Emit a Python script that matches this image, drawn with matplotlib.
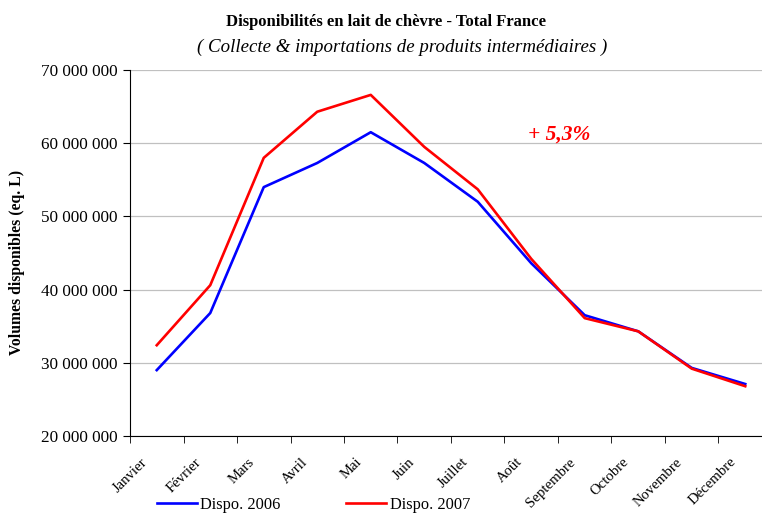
import matplotlib
matplotlib.use('Agg')
import matplotlib.pyplot as plt
from matplotlib.transforms import ScaledTranslation
import numpy as np

plt.rcParams['font.family'] = ['Liberation Serif', 'DejaVu Serif']

# monthly volumes (eq. L)
mois = ['Janvier', 'Février', 'Mars', 'Avril', 'Mai', 'Juin', 'Juillet',
        'Août', 'Septembre', 'Octobre', 'Novembre', 'Décembre']
dispo_2006 = [29.0e6, 36.8e6, 54.0e6, 57.3e6, 61.5e6, 57.3e6, 52.0e6,
              43.6e6, 36.5e6, 34.3e6, 29.3e6, 27.1e6]
dispo_2007 = [32.4e6, 40.6e6, 58.0e6, 64.3e6, 66.6e6, 59.5e6, 53.7e6,
              44.2e6, 36.1e6, 34.3e6, 29.2e6, 26.8e6]
evolution = '+ 5,3%'

fig = plt.figure(figsize=(7.62, 5.13), dpi=100)
ax = fig.add_axes([130/762, 1 - 436/513, 642/762, 366/513])

x = np.arange(len(mois))
l1, = ax.plot(x, dispo_2006, color='#0000ff', lw=1.9, label='Dispo. 2006')
l2, = ax.plot(x, dispo_2007, color='#ff0000', lw=1.9, label='Dispo. 2007')

ax.set_xlim(-0.5, len(mois) - 0.5)
ax.set_ylim(20e6, 70e6)
ax.set_yticks(np.arange(20e6, 70e6 + 1, 10e6))
ax.set_yticklabels(['{:,.0f}'.format(v).replace(',', ' ') for v in ax.get_yticks()])
ax.yaxis.grid(True, color='#c0c0c0', lw=0.9)
ax.set_axisbelow(True)

ax.set_xticks(x)
ax.set_xticklabels(mois, rotation=45, ha='right', rotation_mode='anchor')
ax.set_xticks(np.arange(-0.5, len(mois)), minor=True)
ax.tick_params(axis='x', which='major', length=0, pad=14, labelsize=10.6)
ax.tick_params(axis='x', which='minor', length=5, direction='out', color='black')
ax.tick_params(axis='y', length=5, direction='out', labelsize=12.3, pad=4)
# month labels sit a little left of their category
shift = ScaledTranslation(-16/100, 0, fig.dpi_scale_trans)
for lab in ax.get_xticklabels():
    lab.set_transform(lab.get_transform() + shift)

for s in ['top', 'right']:
    ax.spines[s].set_visible(False)
ax.spines['left'].set_color('black')
ax.spines['bottom'].set_color('black')

ax.set_ylabel('Volumes disponibles (eq. L)', fontsize=11.3, fontweight='bold')
ax.yaxis.set_label_coords((25 - 130)/642, (436 - 262)/366)

fig.text(386/762, 1 - 22/513, 'Disponibilités en lait de chèvre - Total France',
         ha='center', va='center', fontsize=12, fontweight='bold')
fig.text(402/762, 1 - 47/513, '( Collecte & importations de produits intermédiaires )',
         ha='center', va='center', fontsize=13.6, style='italic')

ax.text(7.52, 61.2e6, evolution, color='#ff0000', fontsize=15.5, fontweight='bold',
        style='italic', ha='center', va='center')

fig.legend(handles=[l1, l2], loc='center left', bbox_to_anchor=(142/762, 1 - 505/513),
           ncol=2, frameon=False, fontsize=11.8, handlelength=2.45, columnspacing=4.0,
           handletextpad=0.2)

fig.savefig('out.png', dpi=100)
